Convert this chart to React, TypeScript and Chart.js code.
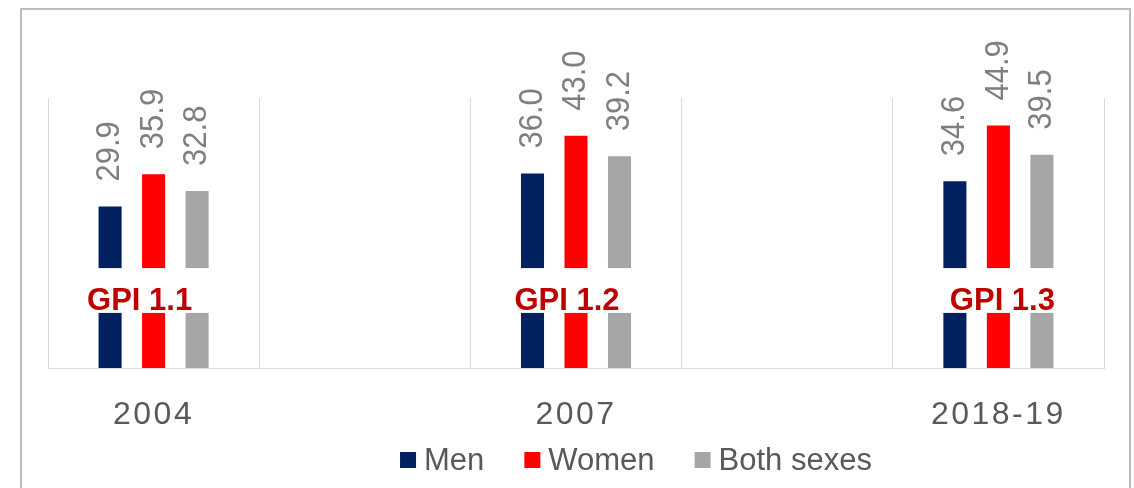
import React, { useEffect, useRef } from 'react';
import { Chart, registerables } from 'chart.js';

Chart.register(...registerables);

// ---- data ----
const years = ['2004', '2007', '2018-19'];
const men = [29.9, 36.0, 34.6];
const women = [35.9, 43.0, 44.9];
const both = [32.8, 39.2, 39.5];
const gpiLabels = ['GPI 1.1', 'GPI 1.2', 'GPI 1.3'];
const seriesNames = ['Men', 'Women', 'Both sexes'];
const seriesColors = ['#002060', '#FF0000', '#A6A6A6'];
const yMin = 0;
const yMax = 50;

// ---- style / layout ----
const FONT = "'Liberation Sans', Arial, Helvetica, sans-serif";
const gpiNudge = [-14, -9, 4];
const bandTopValue = 18.5;
const bandBottomValue = 10.2;
const legendCenterX = 636;
const legendBaselineY = 470;

// each year sits in every other category slot (empty slots between)
const categories = years.flatMap((y, i) => (i < years.length - 1 ? [y, ''] : [y]));
const spread = (vals: number[]) =>
  vals.flatMap((v, i) => (i < vals.length - 1 ? [v, null] : [v]));
const seriesValues = [men, women, both];

const overlayPlugin = {
  id: 'overlay',
  beforeDraw(chart: any) {
    (chart.ctx as any).letterSpacing = '2.5px';
  },
  beforeDatasetsDraw(chart: any) {
    (chart.ctx as any).letterSpacing = '0px';
  },
  afterDatasetsDraw(chart: any) {
    const ctx = chart.ctx;
    (ctx as any).letterSpacing = '0px';
    const xScale = chart.scales.x;
    const yScale = chart.scales.y;
    const metas = seriesValues.map((_, i) => chart.getDatasetMeta(i));
    years.forEach((_, yi) => {
      const slot = yi * 2;
      const bars = metas.map((m: any) => m.data[slot]);
      const left = Math.min(...bars.map((b: any) => b.x - b.width / 2));
      const right = Math.max(...bars.map((b: any) => b.x + b.width / 2));
      const cx = xScale.getPixelForValue(slot) + gpiNudge[yi];
      ctx.save();
      ctx.font = `bold 31px ${FONT}`;
      const tw = ctx.measureText(gpiLabels[yi]).width;
      const x0 = Math.min(left, cx - tw / 2) - 3;
      const x1 = Math.max(right, cx + tw / 2) + 3;
      const yTop = yScale.getPixelForValue(bandTopValue);
      const yBot = yScale.getPixelForValue(bandBottomValue);
      ctx.fillStyle = '#FFFFFF';
      ctx.fillRect(x0, yTop, x1 - x0, yBot - yTop);
      ctx.fillStyle = '#C00000';
      ctx.textAlign = 'center';
      ctx.textBaseline = 'alphabetic';
      ctx.fillText(gpiLabels[yi], cx, yBot - 3);
      ctx.restore();

      bars.forEach((b: any, si: number) => {
        const v = seriesValues[si][yi];
        ctx.save();
        ctx.translate(b.x, b.y - 25);
        ctx.rotate(-Math.PI / 2);
        ctx.scale(1, 1.08);
        ctx.font = `31px ${FONT}`;
        ctx.fillStyle = '#7F7F7F';
        ctx.textAlign = 'left';
        ctx.textBaseline = 'middle';
        ctx.fillText(v.toFixed(1), 0, 0);
        ctx.restore();
      });
    });
  },
  afterDraw(chart: any) {
    const ctx = chart.ctx;
    ctx.save();
    (ctx as any).letterSpacing = '0px';
    ctx.font = `31px ${FONT}`;
    const box = 16;
    const gapBoxText = 8;
    const gapItems = 40;
    const widths = seriesNames.map((n) => box + gapBoxText + ctx.measureText(n).width);
    const total = widths.reduce((a, b) => a + b, 0) + gapItems * (widths.length - 1);
    let x = legendCenterX - total / 2;
    seriesNames.forEach((name, i) => {
      ctx.fillStyle = seriesColors[i];
      ctx.fillRect(x, legendBaselineY - 18, box, box);
      ctx.fillStyle = '#595959';
      ctx.textAlign = 'left';
      ctx.textBaseline = 'alphabetic';
      ctx.fillText(name, x + box + gapBoxText, legendBaselineY);
      x += widths[i] + gapItems;
    });
    ctx.restore();
  },
};

export default function App() {
  const canvasRef = useRef<HTMLCanvasElement | null>(null);

  useEffect(() => {
    if (!canvasRef.current) return;
    const chart = new Chart(canvasRef.current, {
      type: 'bar',
      data: {
        labels: categories,
        datasets: seriesNames.map((name, i) => ({
          label: name,
          data: spread(seriesValues[i]) as any,
          backgroundColor: seriesColors[i],
          borderWidth: 0,
          categoryPercentage: 0.618,
          barPercentage: 0.53,
        })),
      },
      options: {
        responsive: false,
        animation: false,
        events: [],
        layout: { padding: { left: 48, right: 30, top: 98, bottom: 0 } },
        plugins: {
          legend: { display: false },
          tooltip: { enabled: false },
          title: { display: false },
        },
        scales: {
          x: {
            offset: true,
            grid: {
              display: true,
              offset: true,
              color: '#D9D9D9',
              lineWidth: 1,
              drawTicks: false,
            },
            border: { display: true, color: '#D9D9D9', width: 1 },
            ticks: {
              color: '#595959',
              font: { family: FONT, size: 32 },
              padding: 28,
              maxRotation: 0,
              autoSkip: false,
            },
            afterFit: (scale: any) => {
              scale.height = 120;
            },
          },
          y: {
            display: false,
            min: yMin,
            max: yMax,
          },
        },
      },
      plugins: [overlayPlugin],
    });
    return () => chart.destroy();
  }, []);

  return (
    <div
      style={{
        position: 'fixed',
        left: 0,
        top: 0,
        width: 1134,
        height: 488,
        overflow: 'hidden',
        background: '#FFFFFF',
      }}
    >
      <canvas
        ref={canvasRef}
        width={1134}
        height={488}
        style={{ position: 'absolute', left: 0, top: 0, width: 1134, height: 488 }}
      />
      <div
        style={{
          position: 'absolute',
          left: 20,
          top: 8,
          width: 1111,
          height: 700,
          border: '2px solid #BDBDBD',
          boxSizing: 'border-box',
          pointerEvents: 'none',
        }}
      />
    </div>
  );
}
